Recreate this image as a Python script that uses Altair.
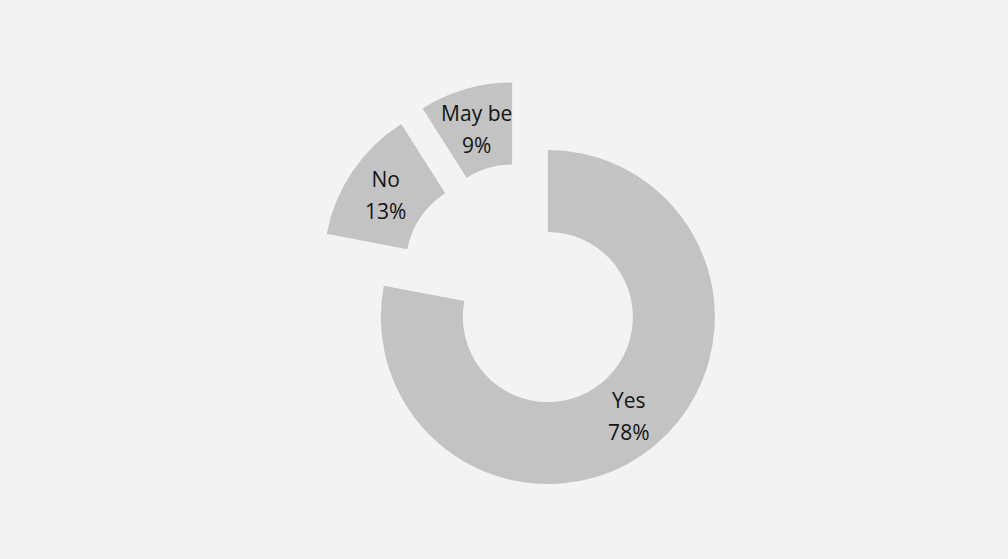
import altair as alt
import pandas as pd

categories = ["Yes", "No", "May be"]
values = [78, 13, 9]
labels = ["78%", "13%", "9%"]
order = [0, 1, 2]

df = pd.DataFrame({"cat": categories, "value": values, "pct": labels, "ord": order})

CX, CY = 523, 287       # donut centre (px)
EXPLODE = 39            # slice explosion (px)
R_OUT, R_IN = 167, 85
R_LAB = 127

base = alt.Chart(df).transform_joinaggregate(
    total="sum(value)"
).transform_window(
    cum="sum(value)", sort=[alt.SortField("ord")], frame=[None, 0]
).transform_calculate(
    t0="2*PI*(datum.cum - datum.value)/datum.total",
    t1="2*PI*datum.cum/datum.total",
).transform_calculate(
    mid="(datum.t0 + datum.t1)/2"
).transform_calculate(
    cx=f"{CX} + {EXPLODE}*sin(datum.mid)",
    cy=f"{CY} - {EXPLODE}*cos(datum.mid)",
).transform_calculate(
    lx=f"datum.cx + {R_LAB}*sin(datum.mid)",
    ly=f"datum.cy - {R_LAB}*cos(datum.mid)",
    txt="datum.cat + '\\n' + datum.pct",
)

arcs = base.mark_arc(radius=R_OUT, radius2=R_IN, color="#c3c3c3").encode(
    theta=alt.Theta("t0:Q", scale=None),
    theta2="t1:Q",
    x=alt.X("cx:Q", scale=None),
    y=alt.Y("cy:Q", scale=None),
)

text = base.mark_text(
    font="Open Sans", fontSize=21, color="#141414", lineBreak="\n",
    lineHeight=32, align="center", baseline="middle", dy=-13,
).encode(
    x=alt.X("lx:Q", scale=None),
    y=alt.Y("ly:Q", scale=None),
    text="txt:N",
)

chart = alt.layer(arcs, text).properties(
    width=1008, height=559, autosize="none", padding=0, background="#f3f3f3"
).configure_view(stroke=None)

chart.save("out.html", embed_options={"renderer": "svg", "actions": False})
